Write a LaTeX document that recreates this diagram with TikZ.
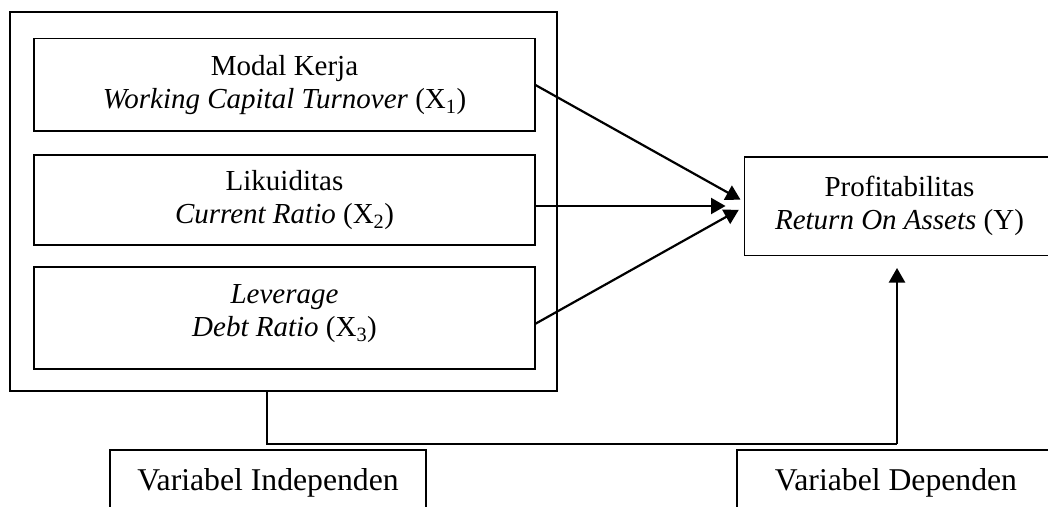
\documentclass[tikz,border=0pt]{standalone}
\usepackage{fontspec}
\setmainfont{Liberation Serif}
\usetikzlibrary{arrows.meta,calc}
\tikzset{
  boxnode/.style={draw, line width=1.7pt, inner sep=0pt, outer sep=0pt, align=center,
    font=\fontsize{29}{33}\selectfont},
  labelbox/.style={boxnode, font=\fontsize{31.7}{36}\selectfont},
  conn/.style={line width=2.2pt, -{Triangle[length=14.5pt,width=16pt]}},
  plainline/.style={line width=1.7pt},
}
\begin{document}
\begin{tikzpicture}[x=1pt,y=-1pt]
\useasboundingbox (0,0) rectangle (1048,506);
% outer container
\node[boxnode, minimum width=547pt, minimum height=379pt] (outer) at (283.5,201.5) {};
% inner boxes
\node[boxnode, minimum width=501pt, minimum height=92.5pt] (b1) at (284.5,84.75)
  {Modal Kerja\\\textit{Working Capital Turnover} (X\textsubscript{1})};
\node[boxnode, minimum width=501pt, minimum height=90pt] (b2) at (284.5,200)
  {Likuiditas\\\textit{Current Ratio} (X\textsubscript{2})};
\node[boxnode, minimum width=501pt, minimum height=102pt, text depth=15pt] (b3) at (284.5,318)
  {\textit{Leverage}\\\textit{Debt Ratio} (X\textsubscript{3})};
% dependent box
\node[boxnode, minimum width=310pt, minimum height=98.7pt] (prof) at (899.5,206)
  {Profitabilitas\\\textit{Return On Assets} (Y)};
% bottom label boxes
\node[labelbox, minimum width=316pt, minimum height=66pt] (vind) at (268,483)
  {Variabel Independen};
\node[labelbox, minimum width=318pt, minimum height=66pt] (vdep) at (896,483)
  {Variabel Dependen};
% arrows
\draw[conn] (b1.east) -- ($(prof.west)+(-4,-6.3)$);
\draw[conn] (b2.east |- prof.west) -- ($(prof.west)+(-19,0)$);
\draw[conn] ($(b3.east)+(0,6)$) -- ($(prof.west)+(-5.7,3.8)$);
% connector from container to dependent box
\coordinate (start) at ($(outer.south west)+(257,0)$);
\coordinate (bend) at (897,444);
\coordinate (tipy) at (897,268);
\draw[plainline] (start) |- (bend);
\draw[conn] (bend) -- (tipy);
\end{tikzpicture}
\end{document}
